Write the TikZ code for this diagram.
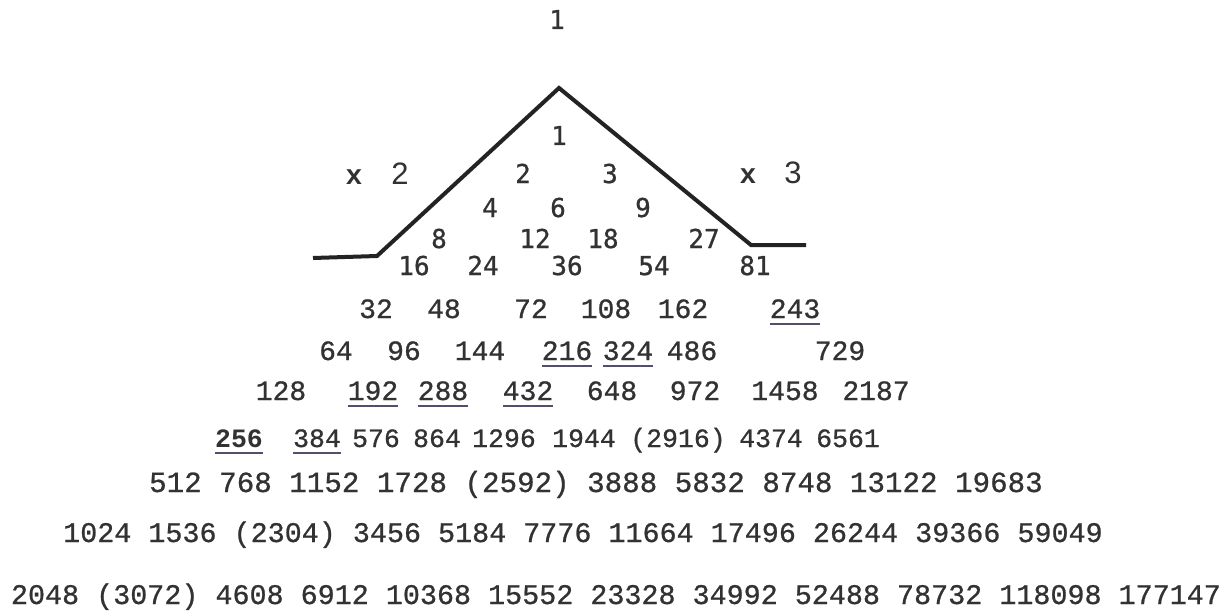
\documentclass[tikz,border=0pt]{standalone}
\usepackage{fontspec}
\newfontfamily\upf{DejaVu Sans Mono}[FakeBold=0.8]
\newfontfamily\lowf{Liberation Mono}[FakeBold=0.8]
\newfontfamily\boldf{Liberation Mono Bold}
\newfontfamily\labf{Liberation Sans}
\definecolor{ink}{RGB}{50,50,50}
\definecolor{lineink}{RGB}{35,35,35}
\definecolor{ulink}{RGB}{80,80,110}
\begin{document}
\begin{tikzpicture}[x=1pt,y=-1pt,
  tri/.style={anchor=base,inner sep=0pt,text=ink,font=\upf\fontsize{26}{26}\selectfont},
  up/.style={anchor=base,inner sep=0pt,text=ink,font=\lowf\fontsize{28}{28}\selectfont},
  mid/.style={anchor=base,inner sep=0pt,text=ink,font=\lowf\fontsize{26.5}{26.5}\selectfont},
  low/.style={anchor=base,inner sep=0pt,text=ink,font=\lowf\fontsize{28.4}{28.4}\selectfont},
  xlab/.style={anchor=base,inner sep=0pt,text=ink,font=\boldf\fontsize{28}{28}\selectfont},
  flab/.style={anchor=base,inner sep=0pt,text=ink,font=\labf\fontsize{31}{31}\selectfont},
  tent/.style={draw=lineink,line width=4pt,line join=miter},
  ulline/.style={draw=ulink,line width=1.4pt}]
\fill[white] (0,0) rectangle (1231,615);
\useasboundingbox (0,0) rectangle (1231,615);

% tent line
\coordinate (L0) at (313,258);
\coordinate (L1) at (377,256);
\coordinate (apex) at (559,88);
\coordinate (R1) at (751,245);
\coordinate (R0) at (806,245);
\draw[tent] (L0) -- (L1) -- (apex) -- (R1) -- (R0);

% labels
\node[xlab] (x2) at (354,184) {x};
\node[flab] (f2) at (400,184) {2};
\node[xlab] (x3) at (748,183) {x};
\node[flab] (f3) at (793,183) {3};

% triangle
\node[tri] (top1) at (557,29) {1};
\node[tri] (a1) at (559,145) {1};
\node[tri] (a2) at (523,183) {2};
\node[tri] (a3) at (610,183) {3};
\node[tri] (a4) at (490,217) {4};
\node[tri] (a6) at (558,217) {6};
\node[tri] (a9) at (643,217) {9};
\node[tri] (a8) at (439,248) {8};
\node[tri] (a12) at (535,248) {12};
\node[tri] (a18) at (603,248) {18};
\node[tri] (a27) at (704,248) {27};
\node[tri] (a16) at (414,275) {16};
\node[tri] (a24) at (483,275) {24};
\node[tri] (a36) at (567,275) {36};
\node[tri] (a54) at (654,275) {54};
\node[tri] (a81) at (755,275) {81};

% row 32
\node[up] (b32) at (376,318) {32};
\node[up] (b48) at (444,318) {48};
\node[up] (b72) at (531,318) {72};
\node[up] (b108) at (606,318) {108};
\node[up] (b162) at (683,318) {162};
\node[up] (b243) at (795,318) {243};

% row 64
\node[up] (c64) at (336,360) {64};
\node[up] (c96) at (404,360) {96};
\node[up] (c144) at (480,360) {144};
\node[up] (c216) at (567,360) {216};
\node[up] (c324) at (628,360) {324};
\node[up] (c486) at (692,360) {486};
\node[up] (c729) at (840,360) {729};

% row 128
\node[up] (d128) at (281,400) {128};
\node[up] (d192) at (373,400) {192};
\node[up] (d288) at (443,400) {288};
\node[up] (d432) at (528,400) {432};
\node[up] (d648) at (612,400) {648};
\node[up] (d972) at (695,400) {972};
\node[up] (d1458) at (785,400) {1458};
\node[up] (d2187) at (876,400) {2187};

% row 256
\node[mid,font=\boldf\fontsize{26.5}{26.5}\selectfont] (e256) at (239,447) {256};
\node[mid] (e384) at (317,447) {384};
\node[mid] (e576) at (376,447) {576};
\node[mid] (e864) at (437,447) {864};
\node[mid] (e1296) at (504,447) {1296};
\node[mid] (e1944) at (584,447) {1944};
\node[mid] (e2916) at (678,447) {(2916)};
\node[mid] (e4374) at (771,447) {4374};
\node[mid] (e6561) at (848,447) {6561};

% lower rows
\node[low,font=\lowf\fontsize{29.2}{29.2}\selectfont] (f512) at (596,492) {512 768 1152 1728 (2592) 3888 5832 8748 13122 19683};
\node[low] (g1024) at (583,542) {1024 1536 (2304) 3456 5184 7776 11664 17496 26244 39366 59049};
\node[low] (h2048) at (616,604) {2048 (3072) 4608 6912 10368 15552 23328 34992 52488 78732 118098 177147};

% underlines
\foreach \n in {b243,c216,c324,d192,d288,d432,e256,e384}
  \draw[ulline] ([yshift=-6pt]\n.base west) -- ([yshift=-6pt]\n.base east);
\end{tikzpicture}
\end{document}
